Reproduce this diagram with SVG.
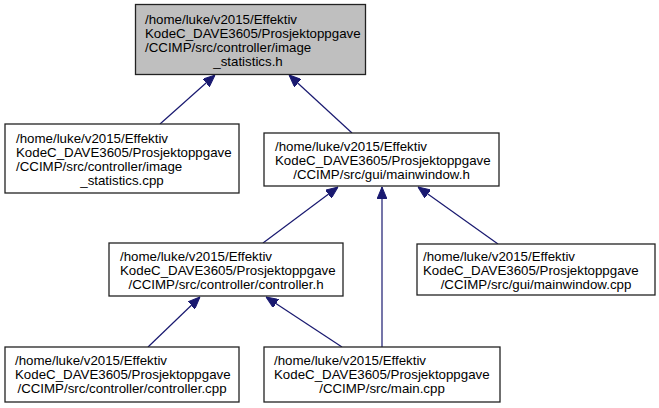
<svg xmlns="http://www.w3.org/2000/svg" width="659" height="408" viewBox="0 0 659 408">
<style>
.box{fill:#ffffff;stroke:#222222;stroke-width:1.3}
.hl{fill:#bfbfbf}
text{font-family:"Liberation Sans",Arial,sans-serif;font-size:13.3px;fill:#000000}
.c{text-anchor:middle}
.e{stroke:#191970;stroke-width:1.2;fill:none}
</style>
<defs>
<marker id="ah" viewBox="0 0 12 10" refX="12" refY="5" markerWidth="12" markerHeight="10" orient="auto" markerUnits="userSpaceOnUse">
<path d="M0,0 L12,5 L0,10 z" fill="#191970" stroke="#191970"/>
</marker>
</defs>
<g id="connectors">
<line class="e" x1="160" y1="124" x2="215" y2="75" marker-end="url(#ah)"/>
<line class="e" x1="352" y1="133" x2="289" y2="75" marker-end="url(#ah)"/>
<line class="e" x1="263" y1="243" x2="338" y2="187" marker-end="url(#ah)"/>
<line class="e" x1="382" y1="347" x2="382" y2="187" marker-end="url(#ah)"/>
<line class="e" x1="498" y1="244" x2="418" y2="187" marker-end="url(#ah)"/>
<line class="e" x1="148" y1="347" x2="200" y2="297" marker-end="url(#ah)"/>
<line class="e" x1="342" y1="347" x2="266" y2="297" marker-end="url(#ah)"/>
</g>
<g id="node_image_statistics_h">
<rect class="box hl" x="135.5" y="4.5" width="230" height="70"/>
<text x="145" y="24">/home/luke/v2015/Effektiv</text>
<text x="145" y="38">KodeC_DAVE3605/Prosjektoppgave</text>
<text x="145" y="52">/CCIMP/src/controller/image</text>
<text class="c" x="248" y="66">_statistics.h</text>
</g>
<g id="node_image_statistics_cpp">
<rect class="box" x="5" y="124" width="234" height="69"/>
<text x="16" y="143">/home/luke/v2015/Effektiv</text>
<text x="16" y="157">KodeC_DAVE3605/Prosjektoppgave</text>
<text x="16" y="171">/CCIMP/src/controller/image</text>
<text class="c" x="122" y="185">_statistics.cpp</text>
</g>
<g id="node_mainwindow_h">
<rect class="box" x="264" y="133" width="235" height="53"/>
<text x="275" y="151">/home/luke/v2015/Effektiv</text>
<text x="275" y="165">KodeC_DAVE3605/Prosjektoppgave</text>
<text class="c" x="381.5" y="179">/CCIMP/src/gui/mainwindow.h</text>
</g>
<g id="node_controller_h">
<rect class="box" x="109" y="243" width="234" height="53"/>
<text x="120" y="261">/home/luke/v2015/Effektiv</text>
<text x="120" y="275">KodeC_DAVE3605/Prosjektoppgave</text>
<text class="c" x="226" y="289">/CCIMP/src/controller/controller.h</text>
</g>
<g id="node_mainwindow_cpp">
<rect class="box" x="417" y="244" width="238" height="51"/>
<text x="423" y="261">/home/luke/v2015/Effektiv</text>
<text x="423" y="275">KodeC_DAVE3605/Prosjektoppgave</text>
<text class="c" x="536" y="289">/CCIMP/src/gui/mainwindow.cpp</text>
</g>
<g id="node_controller_cpp">
<rect class="box" x="5" y="347" width="234" height="55"/>
<text x="15" y="365">/home/luke/v2015/Effektiv</text>
<text x="15" y="379">KodeC_DAVE3605/Prosjektoppgave</text>
<text class="c" x="122" y="393">/CCIMP/src/controller/controller.cpp</text>
</g>
<g id="node_main_cpp">
<rect class="box" x="264" y="347" width="236" height="55"/>
<text x="274" y="365">/home/luke/v2015/Effektiv</text>
<text x="274" y="379">KodeC_DAVE3605/Prosjektoppgave</text>
<text class="c" x="382" y="393">/CCIMP/src/main.cpp</text>
</g>
</svg>
